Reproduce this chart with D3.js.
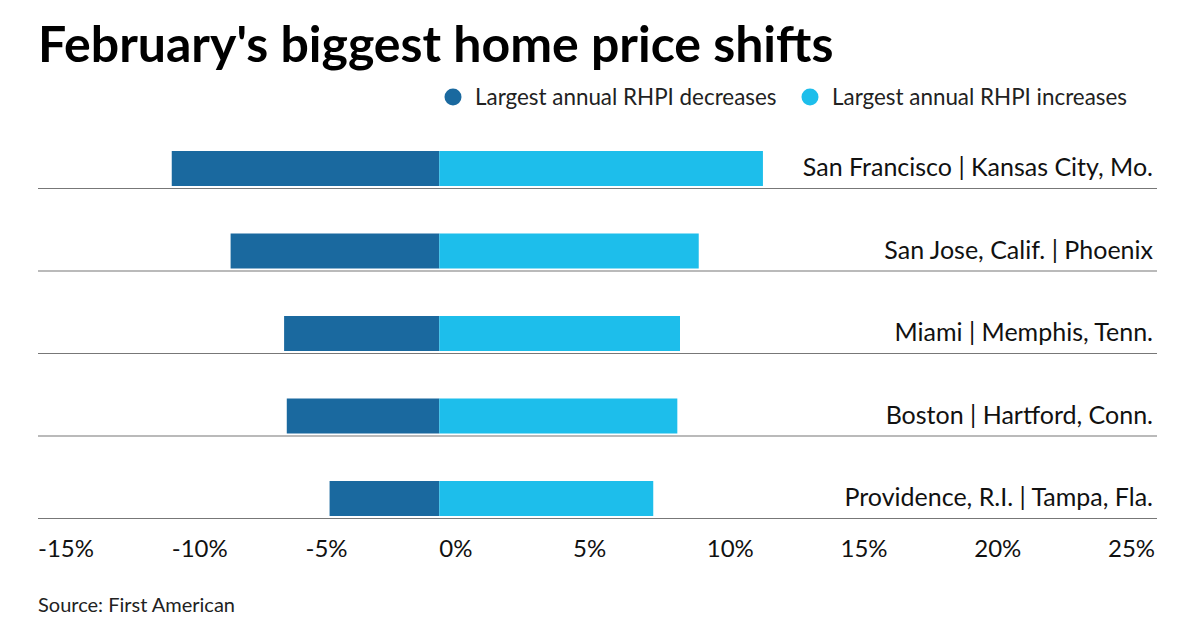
<!DOCTYPE html>
<html>
<head>
<meta charset="utf-8">
<script src="https://cdn.jsdelivr.net/npm/d3@7"></script>
<style>
  body { margin: 0; background: #fff; }
  text { font-family: Lato, "Open Sans", sans-serif; }
</style>
</head>
<body>
<div id="vis"></div>
<script>
const W = 1200, H = 630;

// data (percent, annual RHPI change)
const pairs = ['San Francisco | Kansas City, Mo.', 'San Jose, Calif. | Phoenix', 'Miami | Memphis, Tenn.', 'Boston | Hartford, Conn.', 'Providence, R.I. | Tampa, Fla.'];
const decreases = [-10.0, -7.8, -5.8, -5.7, -4.1];
const increases = [12.1, 9.7, 9.0, 8.9, 8.0];
const tickValues = [-15, -10, -5, 0, 5, 10, 15, 20, 25];
const legendLabels = ['Largest annual RHPI decreases', 'Largest annual RHPI increases'];

const colorDown = '#1a699f';
const colorUp = '#1dbeeb';

const left = 38, right = 1157;

const svg = d3.select('#vis').append('svg')
    .attr('width', W)
    .attr('height', H);

svg.append('text')
    .attr('x', left)
    .attr('y', 62)
    .style('font-size', '50px')
    .style('font-weight', 'bold')
    .style('fill', '#000')
    .text("February's biggest home price shifts");

// legend
const legendX = [453, 810];
const legend = svg.selectAll('.legend')
    .data(legendLabels)
    .join('g')
        .attr('class', 'legend')
        .attr('transform', (d, i) => `translate(${legendX[i]}, 97)`);
legend.append('circle')
    .attr('r', 8.5)
    .attr('fill', (d, i) => i === 0 ? colorDown : colorUp);
legend.append('text')
    .attr('x', 22)
    .attr('y', 8)
    .style('font-size', '22.4px')
    .style('fill', '#222')
    .text(d => d);

const x = d3.scaleLinear()
    .domain([-15, 25])
    .range([left, 1108]);

const y = d3.scaleBand()
    .domain(pairs)
    .range([151, 516])
    .paddingInner(1 - 35 / 82.5)
    .paddingOuter(0);

const rows = svg.selectAll('.row')
    .data(pairs.map((p, i) => ({ name: p, down: decreases[i], up: increases[i] })))
    .join('g')
        .attr('class', 'row');

rows.append('line')
    .attr('x1', left)
    .attr('x2', right)
    .attr('y1', d => y(d.name) + y.bandwidth() + 2.5)
    .attr('y2', d => y(d.name) + y.bandwidth() + 2.5)
    .attr('stroke', '#777')
    .attr('stroke-width', 1.2);

rows.append('rect')
    .attr('x', d => x(d.down))
    .attr('y', d => y(d.name))
    .attr('width', d => x(0) - x(d.down))
    .attr('height', y.bandwidth())
    .attr('fill', colorDown);

rows.append('rect')
    .attr('x', x(0))
    .attr('y', d => y(d.name))
    .attr('width', d => x(d.up) - x(0))
    .attr('height', y.bandwidth())
    .attr('fill', colorUp);

rows.append('text')
    .attr('x', 1153)
    .attr('y', d => y(d.name) + 25)
    .attr('text-anchor', 'end')
    .style('font-size', '25px')
    .style('fill', '#111')
    .text(d => d.name);

// axis labels sit to the right of their tick position
svg.selectAll('.tick-label')
    .data(tickValues)
    .join('text')
        .attr('class', 'tick-label')
        .attr('x', d => x(d))
        .attr('y', 557)
        .style('font-size', '24px')
        .style('fill', '#111')
        .text(d => d + '%');

svg.append('text')
    .attr('x', left)
    .attr('y', 612)
    .style('font-size', '20px')
    .style('fill', '#222')
    .text('Source: First American');
</script>
</body>
</html>
